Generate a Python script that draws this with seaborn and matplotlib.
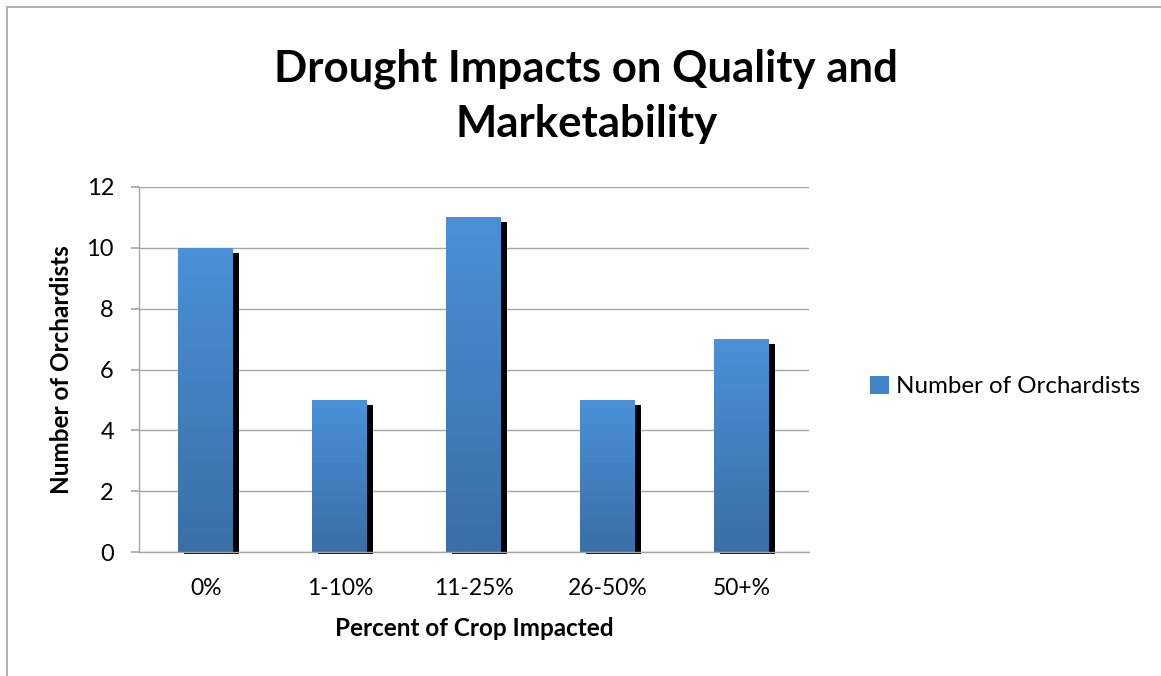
import numpy as np
import pandas as pd
import seaborn as sns
import matplotlib.pyplot as plt
from matplotlib.patches import Patch, Rectangle
from matplotlib.lines import Line2D
from matplotlib.colors import LinearSegmentedColormap
from matplotlib.transforms import Bbox, TransformedBbox, ScaledTranslation

#------------------------------------------------------------------------------#
# data
categories = ['0%', '1-10%', '11-25%', '26-50%', '50+%']
orchardists = [10, 5, 11, 5, 7]
series_name = 'Number of Orchardists'
y_ticks = [0, 2, 4, 6, 8, 10, 12]
#------------------------------------------------------------------------------#

def main():
    sns.set_theme(style='white')
    plt.rcParams['font.family'] = ['Lato', 'DejaVu Sans']
    plt.rcParams['text.color'] = 'black'
    plt.rcParams['axes.labelcolor'] = 'black'

    DF = pd.DataFrame({'cat': categories, 'n': orchardists})

    fig = plt.figure(figsize=(11.61, 6.76), dpi=100)
    ax = fig.add_axes([0.1197, 0.1834, 0.577, 0.54])

    top_col, bot_col = '#4a91d8', '#3a6fa6'
    sns.barplot(data=DF, x='cat', y='n', color=top_col, width=0.41,
                saturation=1, linewidth=0, ax=ax, zorder=3)

    ax.set_ylim(0, 12)
    ax.set_xlim(-0.5, len(categories) - 0.5)

    cmap = LinearSegmentedColormap.from_list('bar', [bot_col, top_col])
    grad = np.linspace(0, 1, 256).reshape(-1, 1)
    clip = TransformedBbox(Bbox([[0, -0.006], [1, 1.1]]), ax.transAxes)
    shift = ScaledTranslation(5.5 / 100, -5 / 100, fig.dpi_scale_trans)
    bars = list(ax.patches)
    for bar in bars:
        x0, w, h = bar.get_x(), bar.get_width(), bar.get_height()
        # drop shadow, offset down/right like the Excel effect
        sh = Rectangle((x0, 0), w, h, facecolor='black', edgecolor='none',
                       transform=ax.transData + shift, zorder=2.5)
        ax.add_artist(sh)
        sh.set_clip_path(None)
        sh.set_clip_box(clip)
        im = ax.imshow(grad, extent=[x0, x0 + w, 0, h], origin='lower',
                       aspect='auto', cmap=cmap, zorder=3.5)
        im.set_clip_path(bar)

    ax.set_ylim(0, 12)
    ax.set_xlim(-0.5, len(categories) - 0.5)
    ax.set_yticks(y_ticks)
    ax.yaxis.grid(True, color='#a6a6a6', linewidth=1.0, zorder=0)
    ax.set_axisbelow(True)

    for s in ['top', 'right']:
        ax.spines[s].set_visible(False)
    for s in ['left', 'bottom']:
        ax.spines[s].set_color('#a6a6a6')
        ax.spines[s].set_linewidth(1.0)
        ax.spines[s].set_zorder(5)

    ax.tick_params(axis='y', left=True, length=6, color='#a6a6a6',
                   labelsize=17, pad=12, labelcolor='black')
    ax.tick_params(axis='x', bottom=False, labelsize=16.5, pad=13,
                   labelcolor='black')

    ax.set_xlabel('Percent of Crop Impacted', fontsize=17.5, fontweight='bold',
                  labelpad=13)
    ax.set_ylabel('Number of Orchardists', fontsize=17.5, fontweight='bold',
                  labelpad=10)

    fig.text(0.505, 0.857, 'Drought Impacts on Quality and\nMarketability',
             ha='center', va='center', fontsize=31.5, fontweight='bold',
             linespacing=1.45)

    handle = Patch(facecolor='#4283c9', edgecolor='none')
    fig.legend([handle], [series_name], loc='center left',
               bbox_to_anchor=(0.731, 0.428), frameon=False, fontsize=17.4,
               handlelength=0.75, handleheight=0.75, handletextpad=0.3)

    # outer chart border (only left and top edge visible in the crop)
    fig.add_artist(Line2D([7 / 1161, 7 / 1161], [0, 1 - 7 / 676],
                          color='#a6a6a6', linewidth=1.2))
    fig.add_artist(Line2D([7 / 1161, 1], [1 - 7 / 676, 1 - 7 / 676],
                          color='#a6a6a6', linewidth=1.2))

    fig.savefig('out.png', dpi=100)

if __name__ == '__main__':
    main()
